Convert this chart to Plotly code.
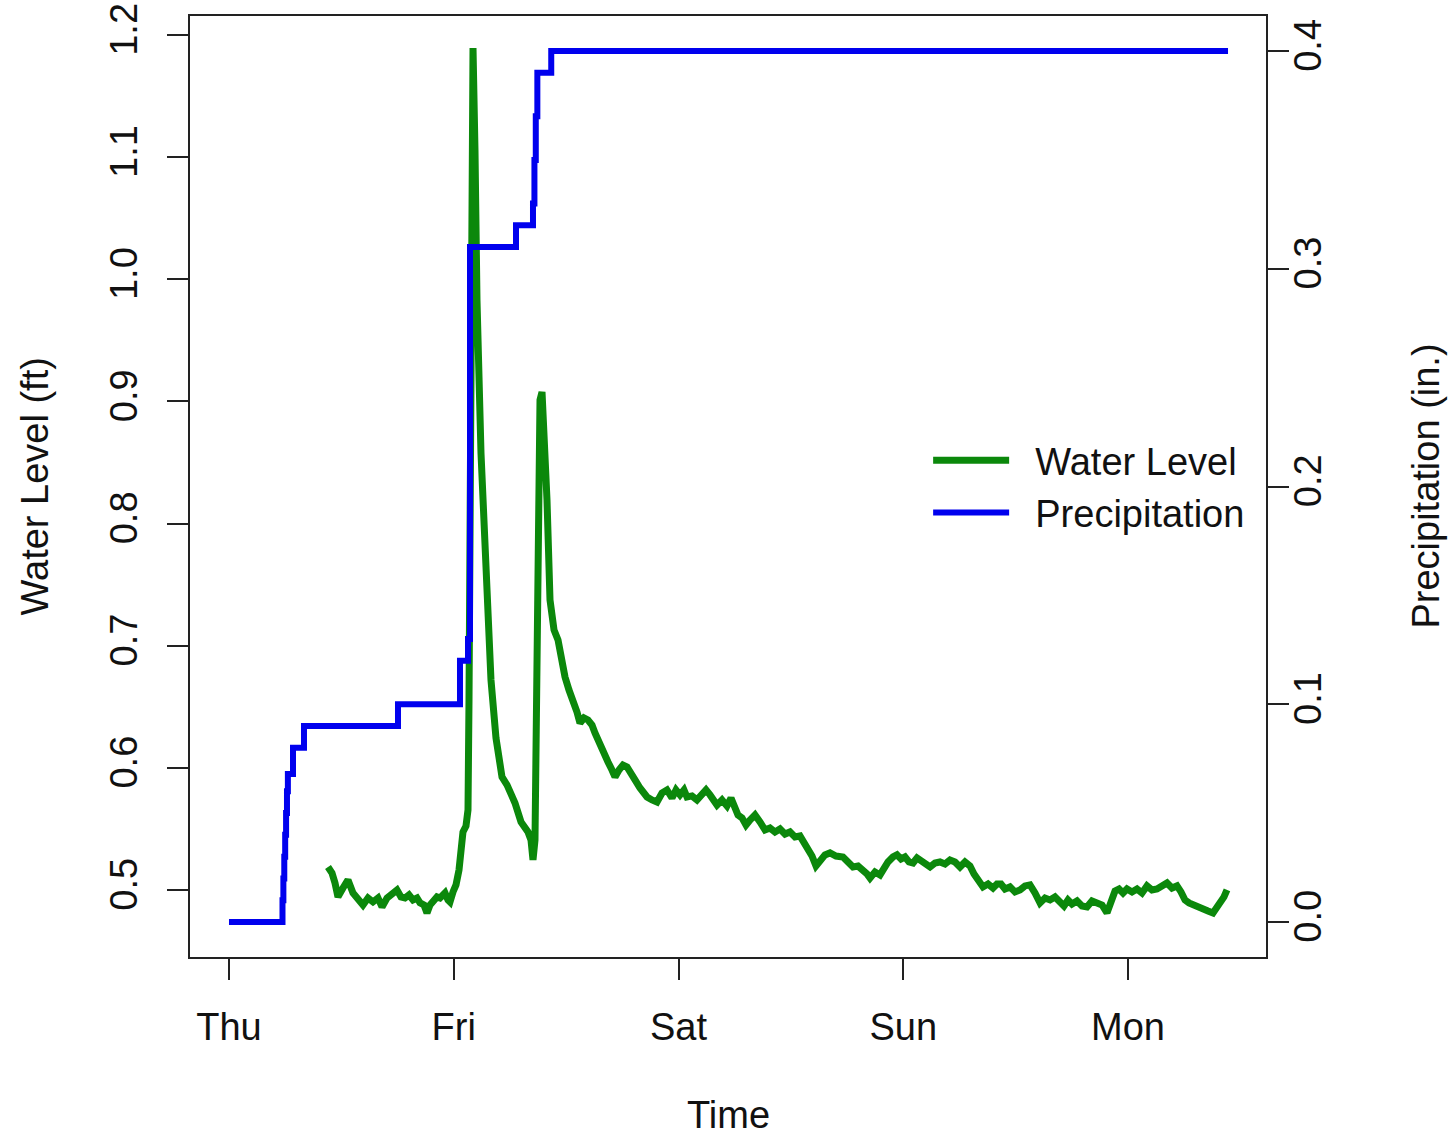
import plotly.graph_objects as go

# ---- data (time in days since Thursday 00:00) ----
wl_time = [0.4405, 0.4583, 0.4716, 0.4850, 0.5072, 0.5295, 0.5517, 0.5740, 0.5962, 0.6185,
           0.6407, 0.6630, 0.6808, 0.7030, 0.7252, 0.7475, 0.7653, 0.7831, 0.8009, 0.8187,
           0.8365, 0.8498, 0.8676, 0.8810, 0.8943, 0.9077, 0.9255, 0.9388, 0.9611, 0.9744,
           0.9833, 0.9967, 1.0100, 1.0234, 1.0322, 1.0411, 1.0545, 1.0634, 1.0679, 1.0723,
           1.0768, 1.0857, 1.0945, 1.1034, 1.1212, 1.1435, 1.1657, 1.1880, 1.2147, 1.2369,
           1.2503, 1.2725, 1.2992, 1.3170, 1.3304, 1.3437, 1.3526, 1.3615, 1.3704, 1.3749,
           1.3838, 1.3927, 1.4016, 1.4149, 1.4283, 1.4461, 1.4639, 1.4817, 1.4950, 1.5128,
           1.5306, 1.5484, 1.5617, 1.5795, 1.5973, 1.6151, 1.6284, 1.6463, 1.6641, 1.6863,
           1.7041, 1.7175, 1.7353, 1.7531, 1.7709, 1.7887, 1.8065, 1.8287, 1.8465, 1.8599,
           1.8821, 1.9043, 1.9266, 1.9488, 1.9711, 1.9889, 2.0067, 2.0245, 2.0378, 2.0601,
           2.0823, 2.1046, 2.1224, 2.1402, 2.1580, 2.1713, 2.1936, 2.2158, 2.2336, 2.2469,
           2.2647, 2.2825, 2.3003, 2.3181, 2.3404, 2.3626, 2.3849, 2.4071, 2.4294, 2.4516,
           2.4739, 2.4961, 2.5184, 2.5406, 2.5584, 2.5762, 2.5940, 2.6118, 2.6296, 2.6518,
           2.6741, 2.7008, 2.7319, 2.7542, 2.7764, 2.7987, 2.8209, 2.8387, 2.8521, 2.8743,
           2.8966, 2.9143, 2.9321, 2.9544, 2.9722, 2.9900, 3.0078, 3.0256, 3.0434, 3.0612,
           3.0745, 3.0968, 3.1190, 3.1413, 3.1635, 3.1858, 3.2080, 3.2302, 3.2525, 3.2747,
           3.2970, 3.3148, 3.3326, 3.3548, 3.3771, 3.3993, 3.4171, 3.4349, 3.4527, 3.4749,
           3.4972, 3.5194, 3.5417, 3.5639, 3.5862, 3.6085, 3.6307, 3.6529, 3.6752, 3.6974,
           3.7152, 3.7330, 3.7508, 3.7731, 3.7953, 3.8176, 3.8398, 3.8621, 3.8843, 3.9066,
           3.9244, 3.9422, 3.9600, 3.9778, 3.9956, 4.0178, 4.0400, 4.0623, 4.0845, 4.1068,
           4.1290, 4.1513, 4.1735, 4.1958, 4.2180, 4.2358, 4.2536, 4.2714, 4.2892, 4.3114,
           4.3337, 4.3559, 4.3782, 4.3959, 4.4137, 4.4271, 4.4404]

water_level = [0.5188, 0.5139, 0.5057, 0.4943, 0.5016, 0.5082, 0.4975, 0.4918, 0.4877, 0.4934,
               0.4902, 0.4934, 0.4861, 0.4934, 0.4975, 0.5000, 0.4943, 0.4934, 0.4959, 0.4918,
               0.4934, 0.4894, 0.4877, 0.4812, 0.4877, 0.4902, 0.4943, 0.4934, 0.4975, 0.4918,
               0.4902, 0.4984, 0.5041, 0.5164, 0.5368, 0.5475, 0.5524, 0.5655, 0.6556, 0.8193,
               1.0240, 1.1894, 1.1059, 0.9831, 0.8578, 0.7644, 0.6719, 0.6244, 0.5925, 0.5860,
               0.5802, 0.5712, 0.5557, 0.5508, 0.5475, 0.5409, 0.5246, 0.5409, 0.6965, 0.8521,
               0.9012, 0.9077, 0.8766, 0.8193, 0.7374, 0.7129, 0.7047, 0.6867, 0.6744, 0.6637,
               0.6556, 0.6457, 0.6367, 0.6408, 0.6392, 0.6351, 0.6285, 0.6204, 0.6122, 0.6048,
               0.5982, 0.5925, 0.5982, 0.6023, 0.6007, 0.5942, 0.5901, 0.5835, 0.5778, 0.5761,
               0.5737, 0.5720, 0.5794, 0.5819, 0.5753, 0.5819, 0.5778, 0.5819, 0.5761, 0.5770,
               0.5737, 0.5778, 0.5819, 0.5778, 0.5737, 0.5696, 0.5737, 0.5688, 0.5753, 0.5704,
               0.5614, 0.5590, 0.5532, 0.5573, 0.5614, 0.5557, 0.5491, 0.5508, 0.5475, 0.5499,
               0.5458, 0.5475, 0.5434, 0.5442, 0.5393, 0.5344, 0.5278, 0.5196, 0.5246, 0.5287,
               0.5303, 0.5278, 0.5270, 0.5229, 0.5188, 0.5196, 0.5164, 0.5131, 0.5098, 0.5147,
               0.5123, 0.5180, 0.5229, 0.5270, 0.5287, 0.5254, 0.5270, 0.5229, 0.5221, 0.5262,
               0.5246, 0.5213, 0.5188, 0.5221, 0.5229, 0.5213, 0.5246, 0.5229, 0.5188, 0.5229,
               0.5196, 0.5131, 0.5082, 0.5025, 0.5049, 0.5016, 0.5049, 0.5049, 0.5008, 0.5025,
               0.4984, 0.5000, 0.5033, 0.5041, 0.4975, 0.4894, 0.4934, 0.4918, 0.4943, 0.4894,
               0.4869, 0.4918, 0.4885, 0.4910, 0.4869, 0.4861, 0.4910, 0.4894, 0.4877, 0.4812,
               0.4918, 0.4992, 0.5008, 0.4975, 0.5008, 0.4984, 0.5008, 0.4975, 0.5033, 0.5000,
               0.5008, 0.5041, 0.5057, 0.5016, 0.5033, 0.4984, 0.4918, 0.4894, 0.4877, 0.4861,
               0.4844, 0.4828, 0.4812, 0.4853, 0.4894, 0.4943, 0.5000]

precip_time = [0.0, 0.2345, 0.2380, 0.2420, 0.2460, 0.2500, 0.2540, 0.2580, 0.2620, 0.2848,
               0.3337, 0.7519, 1.0278, 1.0634, 1.0723, 1.2770, 1.3526, 1.3590, 1.3650, 1.3720,
               1.4338, 4.4450]
precip_total = [0.0, 0.0, 0.01, 0.02, 0.03, 0.04, 0.05, 0.06, 0.068, 0.080,
                0.090, 0.100, 0.120, 0.130, 0.310, 0.320, 0.330, 0.350, 0.370, 0.390,
                0.400, 0.400]

day_ticks = [0, 1, 2, 3, 4]
day_labels = ["Thu", "Fri", "Sat", "Sun", "Mon"]
wl_ticks = [0.5, 0.6, 0.7, 0.8, 0.9, 1.0, 1.1, 1.2]
pr_ticks = [0.0, 0.1, 0.2, 0.3, 0.4]

GREEN = "#0b880b"
BLUE = "#0000ee"
FONT = "Liberation Sans, Arial, Helvetica, sans-serif"
FS = 38
AX = "#222222"
NB = "\u00a0\u00a0"

fig = go.Figure()
fig.add_trace(go.Scatter(x=wl_time, y=water_level, mode="lines", name=NB + "Water Level",
                         line=dict(color=GREEN, width=7), yaxis="y"))
fig.add_trace(go.Scatter(x=precip_time, y=precip_total, mode="lines", name=NB + "Precipitation",
                         line=dict(color=BLUE, width=6, shape="hv"), yaxis="y2"))

W, H = 1456, 1136
L, R, T, B = 190, 190, 16, 179

axis_common = dict(showgrid=False, zeroline=False, ticks="outside", ticklen=21, tickwidth=2,
                   tickcolor=AX, showline=True, linecolor=AX, linewidth=2,
                   tickfont=dict(family=FONT, size=FS, color="#111111"))

fig.update_layout(
    width=W, height=H,
    margin=dict(l=L, r=R, t=T, b=B, autoexpand=False),
    paper_bgcolor="white", plot_bgcolor="white",
    showlegend=True,
    legend=dict(x=0.686, y=0.5, xanchor="left", yanchor="middle", bgcolor="rgba(0,0,0,0)",
                font=dict(family=FONT, size=FS, color="#111111"), itemwidth=76,
                tracegroupgap=0),
    xaxis=dict(range=[-0.1735, 4.614], tickvals=day_ticks, ticktext=day_labels,
               mirror=True, ticklabelstandoff=14, **axis_common),
    yaxis=dict(range=[0.4451, 1.2156], tickvals=wl_ticks, tickformat=".1f",
               tickangle=-90, mirror=True, ticklabelstandoff=15, **axis_common),
    yaxis2=dict(range=[-0.0161, 0.4161], tickvals=pr_ticks, tickformat=".1f",
                tickangle=-90, overlaying="y", side="right", ticklabelstandoff=-14, **axis_common),
    annotations=[
        dict(text="Time", xref="paper", yref="paper", x=0.5, y=-0.168, showarrow=False,
             xanchor="center", yanchor="middle", font=dict(family=FONT, size=FS, color="#111111")),
        dict(text="Water Level (ft)", xref="paper", yref="paper", x=-0.1441, y=0.5,
             showarrow=False, textangle=-90, xanchor="center", yanchor="middle",
             font=dict(family=FONT, size=FS, color="#111111")),
        dict(text="Precipitation (in.)", xref="paper", yref="paper", x=1.1478, y=0.5,
             showarrow=False, textangle=-90, xanchor="center", yanchor="middle",
             font=dict(family=FONT, size=FS, color="#111111")),
    ],
)

fig.write_html("out.html")
